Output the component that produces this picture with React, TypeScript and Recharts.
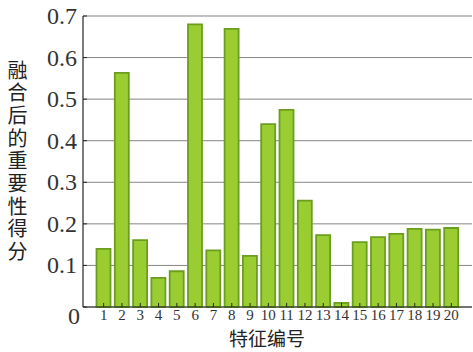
import { BarChart, Bar, XAxis, YAxis, CartesianGrid } from 'recharts'

const featureIds = ['1', '2', '3', '4', '5', '6', '7', '8', '9', '10', '11', '12', '13', '14', '15', '16', '17', '18', '19', '20']
const importance = [0.14, 0.563, 0.161, 0.07, 0.086, 0.68, 0.136, 0.669, 0.123, 0.44, 0.474, 0.256, 0.173, 0.01, 0.156, 0.168, 0.176, 0.188, 0.186, 0.19]
const yTicks = [0, 0.1, 0.2, 0.3, 0.4, 0.5, 0.6, 0.7]
const yTitle = '融合后的重要性得分'
const xTitle = '特征编号'

const data = featureIds.map((id, i) => ({ id, value: importance[i] }))

const serif = '"Liberation Serif", "DejaVu Serif", serif'
const cjk = '"Noto Sans CJK SC", sans-serif'
const axisColor = '#262626'

const BottomTick = ({ x, y, payload }: any) => (
  <g>
    <line x1={x} y1={y} x2={x} y2={y - 4} stroke={axisColor} strokeWidth={1} />
    <text x={x} y={y + 13} textAnchor="middle" fontFamily={serif} fontSize={15} fill="#333">
      {payload.value}
    </text>
  </g>
)

const TopTick = ({ x, y }: any) => (
  <line x1={x} y1={y} x2={x} y2={y + 4} stroke={axisColor} strokeWidth={1} />
)

const LeftTick = ({ x, y, payload }: any) => {
  const v = payload.value as number
  const isZero = v === 0
  return (
    <g>
      <line x1={x} y1={y} x2={x + 4} y2={y} stroke={axisColor} strokeWidth={1} />
      <text
        x={isZero ? x - 3 : x - 6}
        y={isZero ? y + 17 : y + 8}
        textAnchor="end"
        fontFamily={serif}
        fontSize={24}
        fill="#333"
      >
        {isZero ? '0' : v.toFixed(1)}
      </text>
    </g>
  )
}

const RightTick = ({ x, y }: any) => (
  <line x1={x} y1={y} x2={x - 4} y2={y} stroke={axisColor} strokeWidth={1} />
)

export default function App() {
  return (
    <div style={{ position: 'relative', width: 473, height: 352, background: '#fff' }}>
      <style>{'body{margin:0}'}</style>
      <BarChart
        width={473}
        height={352}
        data={data}
        margin={{ top: 16, right: 1, bottom: 0, left: 0 }}
        barCategoryGap={0}
      >
        <CartesianGrid vertical={false} stroke="#858585" strokeWidth={1} />
        <Bar
          dataKey="value"
          fill="#9acd32"
          stroke="#6b9e1f"
          strokeWidth={1.8}
          barSize={14}
          isAnimationActive={false}
        />
        <XAxis
          dataKey="id"
          interval={0}
          height={45}
          padding={{ left: 11.5, right: 11.5 }}
          tickSize={0}
          tickMargin={0}
          tick={(p: any) => <BottomTick {...p} />}
          axisLine={{ stroke: axisColor, strokeWidth: 1.2 }}
        />
        <XAxis
          xAxisId="top"
          orientation="top"
          dataKey="id"
          interval={0}
          height={0}
          padding={{ left: 11.5, right: 11.5 }}
          tickSize={0}
          tickMargin={0}
          tick={(p: any) => <TopTick {...p} />}
          axisLine={{ stroke: axisColor, strokeWidth: 1.2 }}
        />
        <YAxis
          width={83}
          domain={[0, 0.7]}
          ticks={yTicks}
          interval={0}
          tickSize={0}
          tickMargin={0}
          tick={(p: any) => <LeftTick {...p} />}
          axisLine={{ stroke: axisColor, strokeWidth: 1.2 }}
        />
        <YAxis
          yAxisId="right"
          orientation="right"
          width={0}
          domain={[0, 0.7]}
          ticks={yTicks}
          interval={0}
          tickSize={0}
          tickMargin={0}
          tick={(p: any) => <RightTick {...p} />}
          axisLine={{ stroke: '#9a9a9a', strokeWidth: 1 }}
        />
      </BarChart>

      {/* y axis title, written top to bottom */}
      <div
        style={{
          position: 'absolute',
          left: 6,
          top: 60,
          writingMode: 'vertical-rl',
          textOrientation: 'upright',
          fontFamily: cjk,
          fontSize: 20,
          letterSpacing: '2.7px',
          lineHeight: '23px',
          color: '#222',
        }}
      >
        {yTitle}
      </div>

      {/* x axis title */}
      <div
        style={{
          position: 'absolute',
          left: 217,
          top: 324,
          width: 100,
          textAlign: 'center',
          fontFamily: cjk,
          fontSize: 19,
          lineHeight: 'normal',
          color: '#222',
        }}
      >
        {xTitle}
      </div>
    </div>
  )
}
